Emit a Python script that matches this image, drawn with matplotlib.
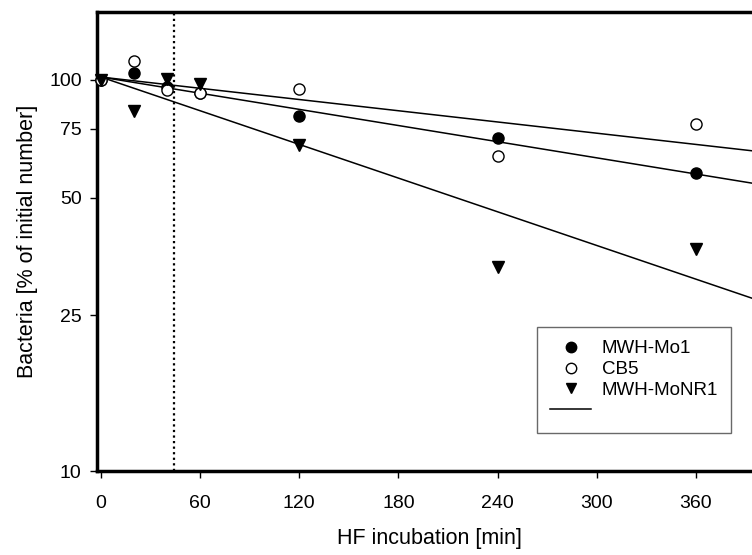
import matplotlib
matplotlib.use("Agg")
import matplotlib.pyplot as plt
from matplotlib.lines import Line2D
import numpy as np

plt.rcParams['font.family'] = ['Liberation Sans', 'DejaVu Sans']

# Data
time_min = [0, 20, 40, 60, 120, 240, 360]
mo1 = [100, 104, 96, 92.6, 81, 70.8, 57.6]
cb5 = [100, 111.4, 94.4, 92.5, 94.6, 63.8, 77.3]
monr1 = [100, 83, 100.6, 97.5, 68.2, 33.3, 37.0]

# Regression lines (values at start and end)
fit_x = [0, 400]
fit_cb5 = [101.6, 65.4]
fit_mo1 = [101.6, 53.9]
fit_monr1 = [101.6, 27.1]

marker_time = 44
x_ticks = [0, 60, 120, 180, 240, 300, 360]
y_ticks = [10, 25, 50, 75, 100]

fig = plt.figure(figsize=(7.52, 5.55), dpi=100)
ax = fig.add_axes([97/752, 1-471/555, (762-97)/752, (471-12)/555])
ax.set_yscale('log')

for fy in (fit_cb5, fit_mo1, fit_monr1):
    ax.plot(fit_x, fy, color='black', lw=1.1, zorder=2)

ax.axvline(marker_time, color='black', ls=(0, (1, 1.5)), lw=1.6, zorder=1)

ax.plot(time_min, mo1, 'o', color='black', ms=8, zorder=3, clip_on=False)
ax.plot(time_min, cb5, 'o', mfc='white', mec='black', mew=1.0, ms=8, zorder=3, clip_on=False)
ax.plot(time_min, monr1, 'v', color='black', ms=8.5, zorder=3, clip_on=False)

ax.set_xlim(-2.4, 400)
ax.set_ylim(10, 149)
ax.set_xticks(x_ticks)
ax.set_xticklabels([str(t) for t in x_ticks])
ax.set_yticks(y_ticks)
ax.set_yticklabels([str(t) for t in y_ticks])
ax.yaxis.set_minor_locator(matplotlib.ticker.NullLocator())
ax.tick_params(axis='both', direction='out', length=5, width=1.0, labelsize=14)
ax.tick_params(axis='x', pad=12)
ax.tick_params(axis='y', pad=6)

for s in ['left', 'bottom', 'top']:
    ax.spines[s].set_linewidth(2.5)
ax.spines['right'].set_visible(False)

ax.set_xlabel('HF incubation [min]', fontsize=15.5, labelpad=12)
ax.set_ylabel('Bacteria [% of initial number]', fontsize=15.5, labelpad=8)

handles = [
    Line2D([], [], marker='o', color='black', ls='none', ms=7.5),
    Line2D([], [], marker='o', mfc='white', mec='black', ls='none', ms=7.5),
    Line2D([], [], marker='v', color='black', ls='none', ms=7.5),
    Line2D([], [], color='black', lw=1.1),
]
labels = ['MWH-Mo1', 'CB5', 'MWH-MoNR1', '']
leg = fig.legend(handles, labels, loc='upper left',
                 bbox_to_anchor=(537/752, 1-327/555), fontsize=13.5,
                 frameon=True, fancybox=False, edgecolor='#444444',
                 borderpad=0.7, labelspacing=0.2, handlelength=2.2,
                 handletextpad=0.55, borderaxespad=0)
leg.get_frame().set_linewidth(1.0)

fig.savefig('out.png', dpi=100)
